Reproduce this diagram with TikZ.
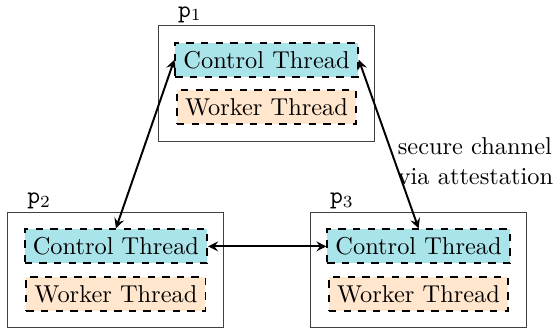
\documentclass[tikz,border=0pt]{standalone}
\usepackage{amsfonts, amsmath, amssymb}
\usepackage{tikz}
\usetikzlibrary{positioning}
\usetikzlibrary{fit}

\definecolor{ctrlcyan}{RGB}{170,228,235}
\definecolor{workorange}{RGB}{255,230,204}

\begin{document}
\begin{tikzpicture}[>=stealth]
        \useasboundingbox (0,0) rectangle (8.01,4.74);
        \tikzset{
            thread/.style={thick, rectangle, draw, dashed},
            ctrl/.style={thread, fill=ctrlcyan},
            work/.style={thread, fill=workorange},
            party/.style={rectangle, draw=black!75, inner sep=6.5pt},
            plabel/.style={anchor=south west, inner sep=1pt}
        }
        \begin{scope}
            % threads of each party
            \node [ctrl] (c1) at (3.84,3.88) {Control Thread};
            \node [work, below=0.17 of c1] (w1) {Worker Thread};
            \node [ctrl] (c2) at (1.67,1.19) {Control Thread};
            \node [work, below=0.17 of c2] (w2) {Worker Thread};
            \node [ctrl] (c3) at (6.03,1.19) {Control Thread};
            \node [work, below=0.17 of c3] (w3) {Worker Thread};
            % parties
            \node [party, fit=(c1)(w1)] (p1) {};
            \node [party, fit=(c2)(w2)] (p2) {};
            \node [party, fit=(c3)(w3)] (p3) {};
            \node [plabel] (l1) at ([xshift=7pt]p1.north west) {$\mathtt{p}_1$};
            \node [plabel] (l2) at ([xshift=7pt]p2.north west) {$\mathtt{p}_2$};
            \node [plabel] (l3) at ([xshift=7pt]p3.north west) {$\mathtt{p}_3$};
            % channels
            \draw [<->, thick] (c1.west) -- (c2.north);
            \draw [<->, thick] (c1.east) -- (c3.north);
            \draw [<->, thick] (c2.east) -- (c3.west);
            \node [align=left] (chan) at (6.85,2.42) {secure channel\\via attestation};
        \end{scope}

    \end{tikzpicture}
\end{document}
